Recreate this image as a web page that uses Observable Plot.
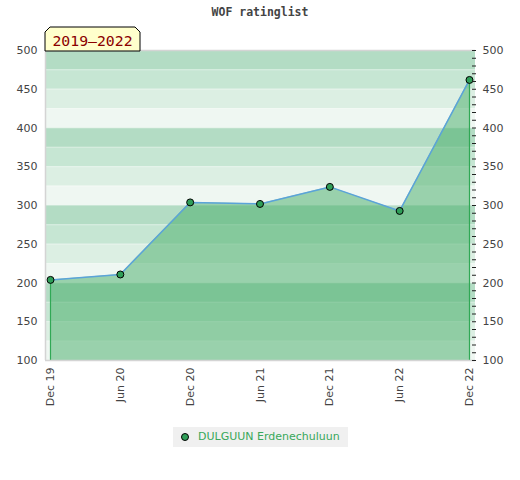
<!DOCTYPE html>
<html><head><meta charset="utf-8">
<script src="https://cdn.jsdelivr.net/npm/d3@7"></script>
<script src="https://cdn.jsdelivr.net/npm/@observablehq/plot@0.6"></script>
<style>
body{margin:0;background:#fff;}
#wrap{position:relative;width:520px;height:480px;overflow:hidden;}
#chart{position:absolute;left:0;top:0;}
#title{position:absolute;left:0;width:520px;top:5px;text-align:center;font:bold 11.5px "DejaVu Sans Mono",monospace;color:#444;}
#badge{position:absolute;left:44px;top:26px;}
#legend{position:absolute;left:173px;top:427px;width:175px;height:20px;background:#f0f0f0;}
#legend svg{position:absolute;left:6px;top:4px;}
#legend span{position:absolute;left:25px;top:3px;font:11px "DejaVu Sans",sans-serif;color:#38a85a;white-space:nowrap;}
</style></head><body>
<div id="wrap">
  <div id="chart"></div>
  <div id="title"></div>
  <div id="badge"></div>
  <div id="legend"><svg width="12" height="12"><circle cx="6" cy="6" r="3.5" fill="#2f9e58" stroke="#000" stroke-width="1"/></svg><span></span></div>
</div>
<script>
const chartTitle = "WOF ratinglist";
const rangeLabel = "2019–2022";
const playerName = "DULGUUN Erdenechuluun";
const periods = ["Dec 19","Jun 20","Dec 20","Jun 21","Dec 21","Jun 22","Dec 22"];
const ratings = [204, 211, 304, 302, 324, 293, 462];
const yTicks = [100,150,200,250,300,350,400,450,500];
const minorTicks = d3.range(100, 501, 10);
const bandEdges = d3.range(100, 500, 25);
const bandColors = ["#eff7f2","#dcefe3","#c6e6d3","#b3dcc4"];

document.getElementById("title").textContent = chartTitle;
document.querySelector("#legend span").textContent = playerName;
document.getElementById("badge").innerHTML =
  `<svg width="98" height="26"><polygon points="1,25 1,6 6,1 91,1 96,6 96,25" fill="#ffffcc" stroke="#000" stroke-width="1"/>
   <text x="48.5" y="19.5" text-anchor="middle" font-family="DejaVu Sans Mono" font-size="14.8" fill="#8b0000">${rangeLabel}</text></svg>`;

const data = periods.map((p, i) => ({i, p, r: ratings[i]}));
const bands = bandEdges.map((y1, k) => ({y1, y2: y1 + 25, k: k % 4}));
const xmin = -0.0716, xmax = 6.086;

const plot = Plot.plot({
  width: 520, height: 420,
  marginLeft: 45, marginRight: 45, marginTop: 50, marginBottom: 60,
  style: {fontFamily: "DejaVu Sans", fontSize: "11px", color: "#444", background: "transparent"},
  x: {domain: [xmin, xmax], label: null},
  y: {domain: [100, 500], label: null},
  marks: [
    Plot.rect(bands, {y1: "y1", y2: "y2", fill: d => bandColors[d.k]}),
    Plot.ruleY(bandEdges.slice(1), {stroke: "#fff", strokeOpacity: 0.3}),
    Plot.areaY(data, {x: "i", y1: 100, y2: "r", fill: "#43ac66", fillOpacity: 0.5}),
    Plot.ruleX([data[0], data[data.length - 1]], {x: "i", y1: 100, y2: "r", stroke: "#30a855", strokeWidth: 1.2}),
    Plot.line(data, {x: "i", y: "r", stroke: "#5ba3d9", strokeWidth: 1.5}),
    Plot.dot(data, {x: "i", y: "r", r: 3.5, fill: "#2f9e58", stroke: "#000", strokeWidth: 1}),
    Plot.ruleY([100, 500], {stroke: "#d4d4d4", strokeWidth: 1.5}),
    Plot.ruleX([xmin], {stroke: "#d4d4d4", strokeWidth: 1.5}),
    Plot.axisY({anchor: "left", ticks: yTicks, tickSize: 0, tickPadding: 8, label: null}),
    Plot.axisY({anchor: "right", ticks: yTicks, tickSize: 0, tickPadding: 7, label: null}),
    Plot.axisY({anchor: "right", ticks: minorTicks, tickSize: 4, dx: -4, tickFormat: () => "", stroke: "#222", label: null}),
    Plot.axisX({ticks: d3.range(periods.length), tickFormat: i => periods[i], tickRotate: -90, tickSize: 0, tickPadding: 7, label: null})
  ]
});
document.getElementById("chart").appendChild(plot);
</script>
</body></html>
